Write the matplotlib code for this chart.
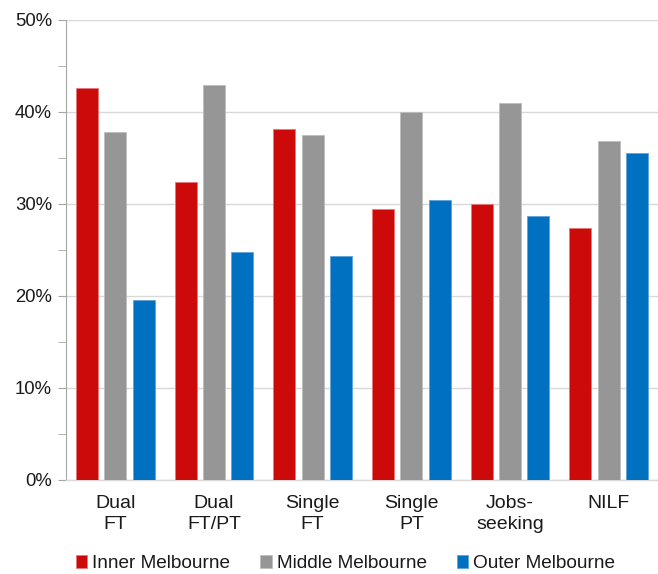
import matplotlib
matplotlib.use("Agg")
import matplotlib.pyplot as plt
import numpy as np
from matplotlib.ticker import MultipleLocator, FuncFormatter

plt.rcParams['font.family'] = ['Liberation Sans', 'DejaVu Sans']

categories = ["Dual\nFT", "Dual\nFT/PT", "Single\nFT", "Single\nPT", "Jobs-\nseeking", "NILF"]
series_names = ["Inner Melbourne", "Middle Melbourne", "Outer Melbourne"]
inner = [42.6, 32.4, 38.2, 29.5, 30.0, 27.4]
middle = [37.8, 42.9, 37.5, 40.0, 41.0, 36.9]
outer = [19.6, 24.8, 24.3, 30.4, 28.7, 35.5]
colors = ["#CC0A0A", "#969696", "#0070C0"]
edges = ["#E8777A", "#BDBDBD", "#5FA3DA"]

fig = plt.figure(figsize=(6.58, 5.74), dpi=100)
ax = fig.add_axes([66 / 658, 94 / 574, 592 / 658, 460 / 574])

x = np.arange(len(categories))
offset = 0.287
width = 0.223
for i, (vals, c, e, name) in enumerate(zip([inner, middle, outer], colors, edges, series_names)):
    ax.bar(x + (i - 1) * offset, vals, width, color=c, edgecolor=e, linewidth=0.6,
           label=name, zorder=3)

ax.set_xlim(-0.5, len(categories) - 0.5)
ax.set_ylim(0, 50)
ax.yaxis.set_major_locator(MultipleLocator(10))
ax.yaxis.set_minor_locator(MultipleLocator(5))
ax.yaxis.set_major_formatter(FuncFormatter(lambda v, p: f"{v:.0f}%"))
ax.grid(axis='y', which='major', color='#D9D9D9', linewidth=1.0, zorder=0)
ax.set_axisbelow(True)

for s in ['top', 'right']:
    ax.spines[s].set_visible(False)
ax.spines['left'].set_color('#A6A6A6')
ax.spines['bottom'].set_color('#D9D9D9')
ax.spines['bottom'].set_linewidth(1.0)
ax.tick_params(axis='y', which='both', direction='out', length=6, color='#A6A6A6',
               labelsize=13.3, labelcolor='#1a1a1a', pad=4)
ax.tick_params(axis='x', length=0, labelsize=14, labelcolor='#1a1a1a', pad=11)
ax.set_xticks(x)
ax.set_xticklabels(categories, linespacing=1.25)

handles, labels = ax.get_legend_handles_labels()
fig.legend(handles, labels, loc='center', bbox_to_anchor=(0.525, 0.018), ncol=3,
           frameon=False, fontsize=13.7, handlelength=0.6, handleheight=0.6,
           handletextpad=0.25, columnspacing=1.6, labelcolor='#1a1a1a')

fig.savefig("out.png", dpi=100)
